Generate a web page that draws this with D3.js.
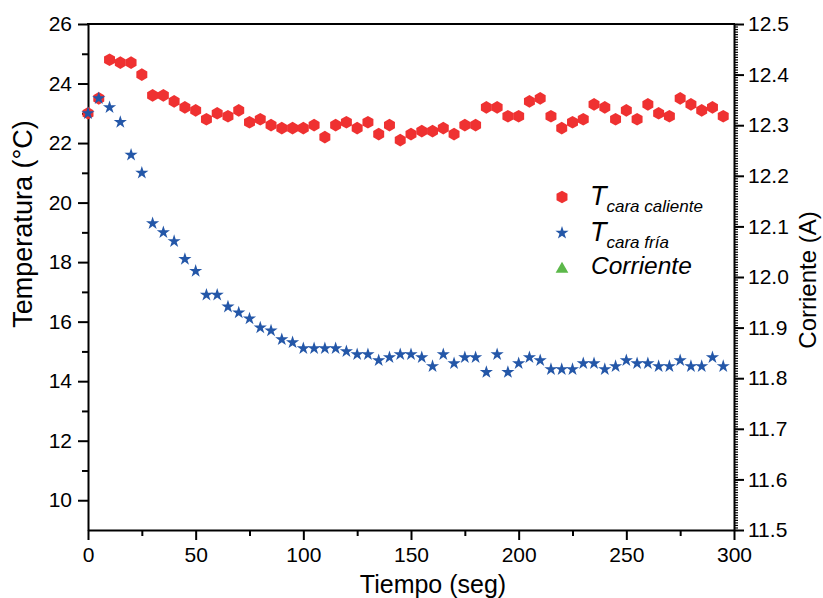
<!DOCTYPE html>
<html>
<head>
<meta charset="utf-8">
<script src="https://cdn.jsdelivr.net/npm/d3@7"></script>
<style>
  body { margin: 0; background: #fff; }
  svg text { font-family: "Liberation Sans", Arial, sans-serif; fill: #000; }
</style>
</head>
<body>
<svg id="chart" width="823" height="598"></svg>
<script>
// tiempo (seg), every 5 s
const tiempo = d3.range(0, 300, 5);

const caraCaliente = [
  23.0, 23.5, 24.8, 24.7, 24.7, 24.3, 23.6, 23.6, 23.4, 23.2,
  23.1, 22.8, 23.0, 22.9, 23.1, 22.7, 22.8, 22.6, 22.5, 22.5,
  22.5, 22.6, 22.2, 22.6, 22.7, 22.5, 22.7, 22.3, 22.6, 22.1,
  22.3, 22.4, 22.4, 22.5, 22.3, 22.6, 22.6, 23.2, 23.2, 22.9,
  22.9, 23.4, 23.5, 22.9, 22.5, 22.7, 22.8, 23.3, 23.2, 22.8,
  23.1, 22.8, 23.3, 23.0, 22.9, 23.5, 23.3, 23.1, 23.2, 22.9
];

const caraFria = [
  23.0, 23.5, 23.2, 22.7, 21.6, 21.0, 19.3, 19.0, 18.7, 18.1,
  17.7, 16.9, 16.9, 16.5, 16.3, 16.1, 15.8, 15.7, 15.4, 15.3,
  15.1, 15.1, 15.1, 15.1, 15.0, 14.9, 14.9, 14.7, 14.8, 14.9,
  14.9, 14.8, 14.5, 14.9, 14.6, 14.8, 14.8, 14.3, 14.9, 14.3,
  14.6, 14.8, 14.7, 14.4, 14.4, 14.4, 14.6, 14.6, 14.4, 14.5,
  14.7, 14.6, 14.6, 14.5, 14.5, 14.7, 14.5, 14.5, 14.8, 14.5
];

// corriente: no points fall inside the visible range, only the legend entry shows
const corriente = [];

const xTicks = [0, 50, 100, 150, 200, 250, 300];
const yLeftTicks = [10, 12, 14, 16, 18, 20, 22, 24, 26];
const yRightTicks = [11.5, 11.6, 11.7, 11.8, 11.9, 12.0, 12.1, 12.2, 12.3, 12.4, 12.5];

const rojo = "#ef3131";
const azul = "#2457a8";
const verde = "#5cb84a";

const svg = d3.select("#chart");
const margin = { top: 24, right: 89, bottom: 68, left: 88 };
const W = 823, H = 598;

const x = d3.scaleLinear().domain([0, 300]).range([margin.left, W - margin.right]);
const yL = d3.scaleLinear().domain([9, 26]).range([H - margin.bottom, margin.top]);
const yR = d3.scaleLinear().domain([11.5, 12.5]).range([H - margin.bottom, margin.top]);

// hexagon symbol, pointy top
const hexagon = {
  draw(ctx, size) {
    const r = Math.sqrt(size / (1.5 * Math.sqrt(3)));
    for (let i = 0; i < 6; i++) {
      const a = Math.PI / 2 + i * Math.PI / 3;
      const px = r * Math.cos(a), py = r * Math.sin(a);
      if (i === 0) ctx.moveTo(px, py); else ctx.lineTo(px, py);
    }
    ctx.closePath();
  }
};

const hexPath = d3.symbol().type(hexagon).size(104)();
const starPath = d3.symbol().type(d3.symbolStar).size(54)();
const triPath = d3.symbol().type(d3.symbolTriangle).size(70)();

const tickFont = g => g.selectAll(".tick text")
  .attr("font-size", 21)
  .style("font-family", "'Liberation Sans', Arial, sans-serif");

// bottom axis
const xAxis = g => g
  .attr("transform", `translate(0,${H - margin.bottom})`)
  .call(d3.axisBottom(x).tickValues(xTicks).tickSize(10).tickPadding(7).tickSizeOuter(0))
  .call(g => g.select(".domain").attr("stroke-width", 2))
  .call(g => g.selectAll(".tick line").attr("stroke-width", 2))
  .call(tickFont);

svg.append("g").call(xAxis);
svg.append("g")
  .attr("transform", `translate(0,${H - margin.bottom})`)
  .call(d3.axisBottom(x).tickValues(d3.range(25, 300, 50)).tickSize(6).tickFormat(""))
  .call(g => g.select(".domain").remove())
  .call(g => g.selectAll(".tick line").attr("stroke-width", 2));

// left axis
const yAxisL = g => g
  .attr("transform", `translate(${margin.left},0)`)
  .call(d3.axisLeft(yL).tickValues(yLeftTicks).tickSize(10).tickPadding(6).tickSizeOuter(0))
  .call(g => g.select(".domain").attr("stroke-width", 2))
  .call(g => g.selectAll(".tick line").attr("stroke-width", 2))
  .call(tickFont);

svg.append("g").call(yAxisL);
svg.append("g")
  .attr("transform", `translate(${margin.left},0)`)
  .call(d3.axisLeft(yL).tickValues(d3.range(11, 26, 2)).tickSize(6).tickFormat(""))
  .call(g => g.select(".domain").remove())
  .call(g => g.selectAll(".tick line").attr("stroke-width", 2));

// right axis
const yAxisR = g => g
  .attr("transform", `translate(${W - margin.right},0)`)
  .call(d3.axisRight(yR).tickValues(yRightTicks).tickSize(10).tickPadding(4).tickFormat(d3.format(".1f")).tickSizeOuter(0))
  .call(g => g.select(".domain").attr("stroke-width", 2))
  .call(g => g.selectAll(".tick line").attr("stroke-width", 2))
  .call(tickFont);

svg.append("g").call(yAxisR);
svg.append("g")
  .attr("transform", `translate(${W - margin.right},0)`)
  .call(d3.axisRight(yR).tickValues(d3.range(0, 201).map(i => 11.5 + i * 0.005)).tickSize(4).tickFormat(""))
  .call(g => g.select(".domain").remove())
  .call(g => g.selectAll(".tick line").attr("stroke-width", 1.2));

// top border
svg.append("line")
  .attr("x1", margin.left - 1).attr("x2", W - margin.right + 1)
  .attr("y1", margin.top).attr("y2", margin.top)
  .attr("stroke", "#000").attr("stroke-width", 2);

// axis titles
svg.append("text")
  .attr("x", 433).attr("y", 593)
  .attr("text-anchor", "middle")
  .attr("font-size", 25)
  .text("Tiempo (seg)");

svg.append("text")
  .attr("transform", "translate(32,224) rotate(-90)")
  .attr("text-anchor", "middle")
  .attr("font-size", 27)
  .text("Temperatura (°C)");

svg.append("text")
  .attr("transform", "translate(816,280) rotate(-90)")
  .attr("text-anchor", "middle")
  .attr("font-size", 24)
  .text("Corriente (A)");

// data points
const caliente = tiempo.map((t, i) => ({ t, v: caraCaliente[i] }));
const fria = tiempo.map((t, i) => ({ t, v: caraFria[i] }));

svg.append("g").selectAll("path")
  .data(caliente)
  .join("path")
  .attr("d", hexPath)
  .attr("transform", d => `translate(${x(d.t)},${yL(d.v)})`)
  .attr("fill", rojo);

svg.append("g").selectAll("path")
  .data(fria)
  .join("path")
  .attr("d", starPath)
  .attr("transform", d => `translate(${x(d.t)},${yL(d.v)})`)
  .attr("fill", azul);

svg.append("g").selectAll("path")
  .data(corriente)
  .join("path")
  .attr("d", triPath)
  .attr("transform", d => `translate(${x(d.t)},${yR(d.v)})`)
  .attr("fill", verde);

// legend
const legend = svg.append("g");
legend.append("path").attr("d", hexPath).attr("transform", "translate(562,197)").attr("fill", rojo);
legend.append("path").attr("d", starPath).attr("transform", "translate(562,233)").attr("fill", azul);
legend.append("path").attr("d", triPath).attr("transform", "translate(562,269)").attr("fill", verde);

const addLabel = (y, main, sub) => {
  const t = legend.append("text")
    .attr("x", 590).attr("y", y)
    .attr("font-style", "italic")
    .attr("font-size", 27);
  t.append("tspan").text(main);
  if (sub) {
    t.append("tspan")
      .attr("dy", 7)
      .attr("font-size", 17)
      .text(sub);
  }
};
addLabel(205, "T", "cara caliente");
addLabel(241, "T", "cara fría");

legend.append("text")
  .attr("x", 591).attr("y", 274)
  .attr("font-style", "italic")
  .attr("font-size", 24.5)
  .text("Corriente");
</script>
</body>
</html>
